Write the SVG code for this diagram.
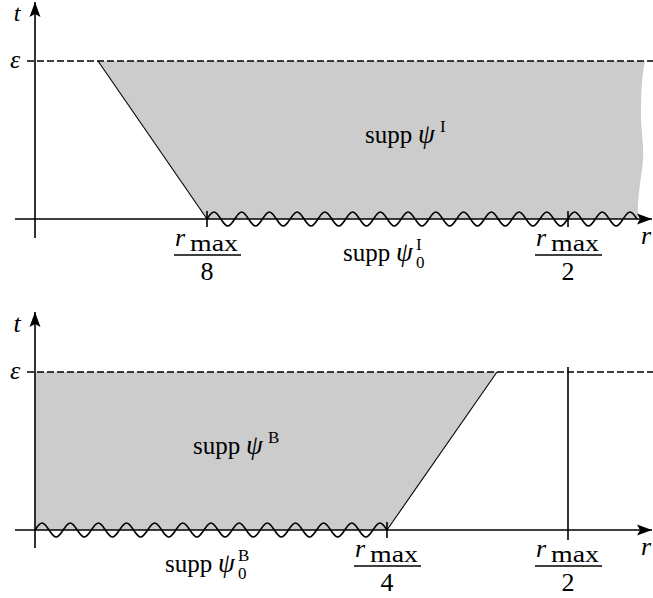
<svg xmlns="http://www.w3.org/2000/svg" width="653" height="598" viewBox="0 0 653 598">
<defs>
<style>
.ax{stroke:#000;stroke-width:1.6;fill:none}
.dash{stroke:#000;stroke-width:1.3;fill:none;stroke-dasharray:7,3}
.thin{stroke:#000;stroke-width:1.1;fill:none}
.wave{stroke:#000;stroke-width:1.6;fill:none}
.shade{fill:#cccccc;stroke:none}
.bar{stroke:#000;stroke-width:1.4}
text{font-family:"Liberation Serif","Times New Roman",serif;font-size:25px;fill:#000}
.it{font-style:italic}
.big{font-size:26px}
.psi{font-size:27px}
.sm{font-size:17px}
.mx{font-size:24px}
</style>
<marker id="arr" viewBox="0 0 16 12" refX="15" refY="6" markerWidth="16" markerHeight="12" markerUnits="userSpaceOnUse" orient="auto">
<path d="M0,0.5 L15,6 L0,11.5 L3,6 Z" fill="#000"/>
</marker>
</defs>
<rect width="653" height="598" fill="#fff"/>

<g id="top-panel">
<g id="top-shade">
<path class="shade" d="M98,61 L645,61 C641,80 641,100 641,117 C641,130 644,145 643,160 C642,175 637,195 638,219 L207,219 Z"/>
</g>
<g id="top-connectors">
<line class="dash" x1="27" y1="61" x2="653" y2="61"/>
<line class="thin" x1="98" y1="61" x2="207" y2="219"/>
<line class="ax" x1="35" y1="238" x2="35" y2="2" marker-end="url(#arr)"/>
<line class="ax" x1="15" y1="219" x2="652" y2="219" marker-end="url(#arr)"/>
<line class="ax" x1="207" y1="211" x2="207" y2="227"/>
<line class="ax" x1="568" y1="211" x2="568" y2="227"/>
<path class="wave" d="M207,219c5.89,-9.33 7.98,-9.33 13.87,0s7.98,9.33 13.87,0s7.98,-9.33 13.87,0s7.98,9.33 13.87,0s7.98,-9.33 13.87,0s7.98,9.33 13.87,0s7.98,-9.33 13.87,0s7.98,9.33 13.87,0s7.98,-9.33 13.87,0s7.98,9.33 13.87,0s7.98,-9.33 13.87,0s7.98,9.33 13.87,0s7.98,-9.33 13.87,0s7.98,9.33 13.87,0s7.98,-9.33 13.87,0s7.98,9.33 13.87,0s7.98,-9.33 13.87,0s7.98,9.33 13.87,0s7.98,-9.33 13.87,0s7.98,9.33 13.87,0s7.98,-9.33 13.87,0s7.98,9.33 13.87,0s7.98,-9.33 13.87,0s7.98,9.33 13.87,0s7.98,-9.33 13.87,0s7.98,9.33 13.87,0s7.98,-9.33 13.87,0s7.98,9.33 13.87,0s7.98,-9.33 13.87,0s7.98,9.33 13.87,0s7.98,-9.33 13.87,0"/>
</g>
<g id="top-labels">
<text class="it" x="17" y="21" text-anchor="middle" style="font-size:24px">t</text>
<text class="it big" x="15" y="68" text-anchor="middle">ε</text>
<text class="it big" x="646" y="244" text-anchor="middle">r</text>
<text x="365" y="143">supp</text><text class="it psi" x="418" y="143">ψ</text><text class="sm" x="440" y="132">I</text>
<text x="343" y="261">supp</text><text class="it psi" x="396" y="261">ψ</text><text class="sm" x="416" y="250">I</text><text class="sm" x="416" y="268">0</text>
<g id="frac-top-8">
<text class="it big" x="175" y="246">r</text><text class="mx" x="190" y="251" textLength="48" lengthAdjust="spacingAndGlyphs">max</text>
<line class="bar" x1="174" y1="255" x2="241" y2="255"/>
<text class="big" x="207" y="280" text-anchor="middle">8</text>
</g>
<g id="frac-top-2">
<text class="it big" x="536" y="246">r</text><text class="mx" x="551" y="251" textLength="48" lengthAdjust="spacingAndGlyphs">max</text>
<line class="bar" x1="535" y1="255" x2="602" y2="255"/>
<text class="big" x="568" y="280" text-anchor="middle">2</text>
</g>
</g>
</g>

<g id="bottom-panel">
<g id="bottom-shade">
<path class="shade" d="M35,372 L497,372 L387,530 L35,530 Z"/>
</g>
<g id="bottom-connectors">
<line class="dash" x1="27" y1="372" x2="653" y2="372"/>
<line class="thin" x1="387" y1="530" x2="497" y2="372"/>
<line class="ax" x1="35" y1="548" x2="35" y2="312" marker-end="url(#arr)"/>
<line class="ax" x1="15" y1="530" x2="652" y2="530" marker-end="url(#arr)"/>
<line class="ax" x1="387" y1="522" x2="387" y2="538"/>
<line class="ax" x1="568" y1="367" x2="568" y2="540"/>
<path class="wave" d="M35,530c5.98,-9.33 8.1,-9.33 14.08,0s8.1,9.33 14.08,0s8.1,-9.33 14.08,0s8.1,9.33 14.08,0s8.1,-9.33 14.08,0s8.1,9.33 14.08,0s8.1,-9.33 14.08,0s8.1,9.33 14.08,0s8.1,-9.33 14.08,0s8.1,9.33 14.08,0s8.1,-9.33 14.08,0s8.1,9.33 14.08,0s8.1,-9.33 14.08,0s8.1,9.33 14.08,0s8.1,-9.33 14.08,0s8.1,9.33 14.08,0s8.1,-9.33 14.08,0s8.1,9.33 14.08,0s8.1,-9.33 14.08,0s8.1,9.33 14.08,0s8.1,-9.33 14.08,0s8.1,9.33 14.08,0s8.1,-9.33 14.08,0s8.1,9.33 14.08,0s8.1,-9.33 14.08,0"/>
</g>
<g id="bottom-labels">
<text class="it big" x="17" y="332" text-anchor="middle">t</text>
<text class="it big" x="15" y="379" text-anchor="middle">ε</text>
<text class="it big" x="646" y="555" text-anchor="middle">r</text>
<text x="193" y="454">supp</text><text class="it psi" x="246" y="454">ψ</text><text class="sm" x="268" y="443">B</text>
<text x="165" y="572">supp</text><text class="it psi" x="218" y="572">ψ</text><text class="sm" x="238" y="561">B</text><text class="sm" x="238" y="579">0</text>
<g id="frac-bot-4">
<text class="it big" x="355" y="557">r</text><text class="mx" x="370" y="562" textLength="48" lengthAdjust="spacingAndGlyphs">max</text>
<line class="bar" x1="354" y1="566" x2="421" y2="566"/>
<text class="big" x="387" y="591" text-anchor="middle">4</text>
</g>
<g id="frac-bot-2">
<text class="it big" x="536" y="557">r</text><text class="mx" x="551" y="562" textLength="48" lengthAdjust="spacingAndGlyphs">max</text>
<line class="bar" x1="535" y1="566" x2="602" y2="566"/>
<text class="big" x="568" y="591" text-anchor="middle">2</text>
</g>
</g>
</g>
</svg>
